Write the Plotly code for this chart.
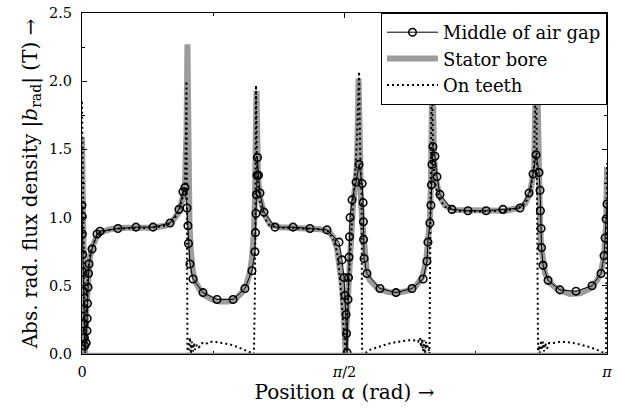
import math
import plotly.graph_objects as go

PI = math.pi

# Radial flux density magnitude along the air gap, alpha in rad, |b_rad| in T.

# Middle of the air gap (sampled points, drawn with markers)
mid_alpha = [0.000, 0.001, 0.002, 0.004, 0.006, 0.008, 0.010, 0.012, 0.014, 0.016,
             0.025, 0.030, 0.031, 0.033, 0.036, 0.039, 0.042, 0.060, 0.090, 0.108,
             0.215, 0.323, 0.425, 0.527, 0.580, 0.604, 0.616, 0.628, 0.634, 0.637,
             0.646, 0.664, 0.724, 0.808, 0.904, 0.975, 1.017, 1.035, 1.038, 1.041,
             1.044, 1.047, 1.050, 1.056, 1.065, 1.089, 1.155, 1.263, 1.364, 1.466,
             1.538, 1.556, 1.568, 1.574, 1.580, 1.583, 1.586, 1.592, 1.595, 1.598,
             1.601, 1.604, 1.616, 1.640, 1.658, 1.676, 1.682, 1.684, 1.685, 1.688,
             1.705, 1.783, 1.879, 1.975, 2.041, 2.064, 2.070, 2.082, 2.088, 2.091,
             2.094, 2.100, 2.112, 2.124, 2.142, 2.214, 2.310, 2.418, 2.519, 2.621,
             2.675, 2.699, 2.717, 2.735, 2.741, 2.743, 2.747, 2.750, 2.759, 2.789,
             2.860, 2.956, 3.052, 3.106, 3.124, 3.130, 3.136, 3.1416]
mid_b = [1.09, 1.01, 0.88, 0.73, 0.60, 0.46, 0.33, 0.22, 0.12, 0.06,
         0.08, 0.17, 0.26, 0.37, 0.49, 0.59, 0.66, 0.77, 0.88, 0.90,
         0.92, 0.93, 0.93, 0.96, 1.06, 1.19, 1.22, 1.07, 0.94, 0.81,
         0.66, 0.55, 0.45, 0.40, 0.40, 0.48, 0.61, 0.75, 0.89, 1.03,
         1.17, 1.31, 1.44, 1.31, 1.18, 1.04, 0.93, 0.93, 0.92, 0.91,
         0.82, 0.69, 0.56, 0.43, 0.29, 0.15, 0.01, 0.40, 0.56, 0.71,
         0.86, 1.00, 1.13, 1.26, 1.39, 1.25, 1.11, 0.97, 0.84, 0.70,
         0.59, 0.48, 0.45, 0.48, 0.55, 0.68, 0.82, 0.96, 1.09, 1.24,
         1.39, 1.52, 1.45, 1.30, 1.17, 1.06, 1.05, 1.05, 1.06, 1.07,
         1.18, 1.32, 1.46, 1.33, 1.20, 1.05, 0.92, 0.78, 0.65, 0.54,
         0.47, 0.46, 0.50, 0.59, 0.72, 0.85, 0.99, 1.10]

# Stator bore
bore_alpha = [0.000, 0.006, 0.012, 0.018, 0.027, 0.036, 0.048, 0.060, 0.084, 0.108,
              0.168, 0.227, 0.407, 0.497, 0.539, 0.574, 0.598, 0.616, 0.625, 0.631,
              0.637, 0.643, 0.652, 0.664, 0.682, 0.706, 0.736, 0.778, 0.826, 0.874,
              0.916, 0.957, 0.987, 1.005, 1.017, 1.029, 1.035, 1.044, 1.053, 1.065,
              1.089, 1.125, 1.185, 1.304, 1.424, 1.472, 1.502, 1.526, 1.544, 1.556,
              1.568, 1.577, 1.586, 1.598, 1.610, 1.622, 1.634, 1.646, 1.655, 1.664,
              1.670, 1.682, 1.693, 1.705, 1.723, 1.771, 1.831, 1.891, 1.951, 1.999,
              2.035, 2.059, 2.070, 2.082, 2.088, 2.097, 2.106, 2.118, 2.142, 2.172,
              2.232, 2.382, 2.531, 2.609, 2.651, 2.681, 2.705, 2.720, 2.729, 2.735,
              2.741, 2.747, 2.759, 2.771, 2.801, 2.849, 2.920, 2.980, 3.040, 3.082,
              3.106, 3.124, 3.136, 3.1416]
bore_b = [1.59, 1.00, 0.45, 0.00, 0.35, 0.60, 0.71, 0.78, 0.85, 0.89,
          0.915, 0.925, 0.925, 0.94, 0.97, 1.03, 1.12, 1.24, 1.60, 2.27,
          1.30, 0.95, 0.75, 0.60, 0.52, 0.47, 0.43, 0.40, 0.385, 0.385,
          0.40, 0.45, 0.52, 0.60, 0.70, 0.90, 1.15, 1.93, 1.30, 1.15,
          1.03, 0.95, 0.93, 0.925, 0.915, 0.90, 0.86, 0.78, 0.65, 0.50,
          0.25, 0.00, 0.30, 0.65, 0.95, 1.10, 1.22, 1.40, 2.02, 1.30,
          1.10, 0.90, 0.72, 0.60, 0.54, 0.48, 0.455, 0.45, 0.465, 0.50,
          0.56, 0.68, 0.82, 1.00, 1.25, 2.20, 1.45, 1.28, 1.15, 1.09,
          1.055, 1.05, 1.05, 1.07, 1.10, 1.18, 1.35, 2.30, 1.30, 1.10,
          0.95, 0.80, 0.66, 0.59, 0.52, 0.47, 0.44, 0.445, 0.48, 0.54,
          0.60, 0.72, 0.95, 1.37]

# On the tooth surfaces (near zero across the slot openings)
teeth_alpha = [0.000, 0.006, 0.012, 0.018, 0.027, 0.036, 0.048, 0.060, 0.084, 0.108,
               0.168, 0.227, 0.407, 0.497, 0.539, 0.574, 0.598, 0.616, 0.622, 0.625,
               0.631, 0.640, 0.646, 0.652, 0.658, 0.664, 0.670, 0.676, 0.688, 0.700,
               0.718, 0.736, 0.766, 0.796, 0.838, 0.886, 0.934, 0.975, 1.005, 1.029,
               1.035, 1.041, 1.047, 1.053, 1.065, 1.089, 1.125, 1.185, 1.304, 1.424,
               1.472, 1.502, 1.526, 1.544, 1.556, 1.568, 1.577, 1.586, 1.598, 1.610,
               1.622, 1.634, 1.646, 1.658, 1.664, 1.673, 1.676, 1.688, 1.699, 1.723,
               1.771, 1.831, 1.891, 1.951, 1.987, 2.011, 2.023, 2.029, 2.035, 2.041,
               2.047, 2.053, 2.059, 2.064, 2.070, 2.079, 2.085, 2.094, 2.100, 2.106,
               2.118, 2.142, 2.172, 2.232, 2.382, 2.531, 2.609, 2.651, 2.681, 2.705,
               2.717, 2.726, 2.729, 2.735, 2.741, 2.747, 2.753, 2.759, 2.765, 2.771,
               2.783, 2.795, 2.819, 2.860, 2.920, 2.980, 3.040, 3.082, 3.118, 3.136,
               3.1416]
teeth_b = [1.85, 1.20, 0.50, 0.00, 0.35, 0.60, 0.72, 0.79, 0.85, 0.89,
           0.91, 0.92, 0.925, 0.94, 0.97, 1.03, 1.12, 1.25, 1.60, 2.00,
           0.00, 0.04, 0.12, 0.00, 0.09, 0.02, 0.08, 0.03, 0.07, 0.05,
           0.08, 0.07, 0.09, 0.09, 0.08, 0.07, 0.05, 0.03, 0.015, 0.00,
           0.50, 1.97, 1.40, 1.25, 1.12, 1.00, 0.94, 0.925, 0.92, 0.915,
           0.90, 0.85, 0.75, 0.55, 0.35, 0.10, 0.00, 0.30, 0.60, 0.90,
           1.10, 1.30, 1.60, 2.07, 1.50, 1.20, 0.00, 0.00, 0.01, 0.03,
           0.05, 0.075, 0.09, 0.10, 0.10, 0.09, 0.12, 0.05, 0.11, 0.02,
           0.10, 0.00, 0.09, 0.04, 0.06, 0.00, 1.00, 2.20, 1.50, 1.35,
           1.22, 1.13, 1.08, 1.05, 1.045, 1.05, 1.07, 1.10, 1.18, 1.38,
           2.30, 1.00, 0.00, 0.06, 0.01, 0.10, 0.03, 0.09, 0.02, 0.08,
           0.04, 0.08, 0.08, 0.09, 0.085, 0.07, 0.05, 0.03, 0.01, 0.00,
           1.40]

x_tickvals = [0, PI / 2, PI]
x_ticktext = ["0", "<i>π</i>/2", "<i>π</i>"]

FONT = "DejaVu Serif"
GRAY = "#9c9c9c"

fig = go.Figure()

fig.add_trace(go.Scatter(
    x=bore_alpha, y=bore_b, mode="lines", name="Stator bore",
    line=dict(color=GRAY, width=6), legendrank=2,
))
fig.add_trace(go.Scatter(
    x=teeth_alpha, y=teeth_b, mode="lines", name="On teeth",
    line=dict(color="black", width=2, dash="2px,3px"), legendrank=3,
))
fig.add_trace(go.Scatter(
    x=mid_alpha, y=mid_b, mode="lines+markers", name="Middle of air gap",
    line=dict(color="black", width=1),
    marker=dict(symbol="circle-open", size=7.5, color="black", line=dict(width=1.6)),
    legendrank=1,
))

axis_common = dict(
    showgrid=False, zeroline=False, showline=True, linecolor="black", linewidth=1,
    mirror="ticks", ticks="inside", ticklen=5, tickcolor="black", automargin=False,
    tickfont=dict(family=FONT, size=14.5, color="black"),
)

fig.update_layout(
    width=621, height=414,
    margin=dict(l=82, r=14, t=13, b=60),
    paper_bgcolor="white", plot_bgcolor="white",
    font=dict(family=FONT, size=17, color="black"),
    xaxis=dict(
        range=[0, PI], tickvals=x_tickvals, ticktext=x_ticktext, ticklabelstandoff=5,
        minor=dict(tick0=0, dtick=PI / 4, ticks="inside", ticklen=3, tickcolor="black"),
        title=dict(text="Position <i>α</i> (rad) →", font=dict(family=FONT, size=20), standoff=4),
        **axis_common,
    ),
    yaxis=dict(
        range=[0, 2.5], tick0=0, dtick=0.5, tickformat=".1f", ticklabelstandoff=6,
        minor=dict(tick0=0, dtick=0.25, ticks="inside", ticklen=3, tickcolor="black"),
        title=dict(text="Abs. rad. flux density |<i>b</i><sub>rad</sub>| (T) →",
                   font=dict(family=FONT, size=20), standoff=6),
        **axis_common,
    ),
    legend=dict(
        x=1, y=1, xanchor="right", yanchor="top",
        bgcolor="white", bordercolor="black", borderwidth=1,
        font=dict(family=FONT, size=18), itemwidth=51,
        tracegroupgap=0,
    ),
    showlegend=True,
    shapes=[dict(type="line", xref="paper", yref="y", x0=0, x1=1, y0=0, y1=0,
                 line=dict(color="#8a8a8a", width=2.5), layer="above")],
)

fig.write_html("out.html")
